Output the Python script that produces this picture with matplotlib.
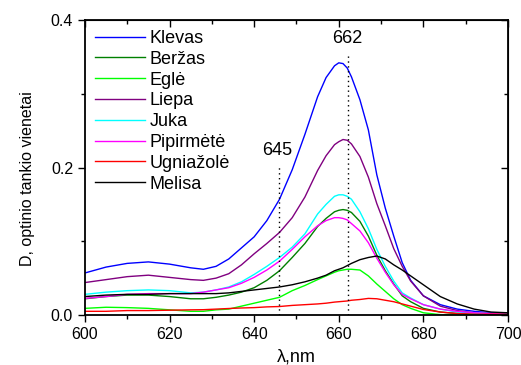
import matplotlib
matplotlib.use("Agg")
import matplotlib.pyplot as plt
from matplotlib.ticker import MultipleLocator, FormatStrFormatter

plt.rcParams['font.family'] = ['Liberation Sans', 'DejaVu Sans']

# bangos ilgis, nm
wl = [600, 605, 610, 615, 620, 625, 628, 631, 634, 637, 640, 643, 646, 649, 652, 655,
      657, 659, 660, 661, 662, 663, 665, 667, 669, 671, 673, 675, 677, 680, 684, 688,
      692, 696, 700]

klevas = [0.057, 0.065, 0.070, 0.072, 0.069, 0.064, 0.062, 0.066, 0.076, 0.091, 0.106,
          0.128, 0.157, 0.197, 0.245, 0.296, 0.322, 0.338, 0.342, 0.341, 0.335, 0.323,
          0.292, 0.251, 0.190, 0.145, 0.107, 0.071, 0.047, 0.026, 0.014, 0.008, 0.005,
          0.003, 0.002]
berzas = [0.022, 0.025, 0.027, 0.027, 0.025, 0.022, 0.022, 0.024, 0.027, 0.031, 0.037,
          0.047, 0.060, 0.078, 0.097, 0.120, 0.131, 0.140, 0.142, 0.143, 0.142, 0.139,
          0.127, 0.107, 0.081, 0.060, 0.042, 0.026, 0.018, 0.009, 0.004, 0.002, 0.001,
          0.001, 0.001]
egle = [0.009, 0.0105, 0.010, 0.009, 0.007, 0.005, 0.005, 0.007, 0.008, 0.012, 0.016,
        0.020, 0.024, 0.033, 0.040, 0.048, 0.053, 0.058, 0.060, 0.061, 0.062, 0.062,
        0.061, 0.053, 0.042, 0.032, 0.022, 0.014, 0.009, 0.003, 0.0005, 0.0, 0.0005,
        0.001, 0.001]
liepa = [0.044, 0.048, 0.052, 0.054, 0.051, 0.048, 0.047, 0.050, 0.056, 0.068, 0.083,
         0.097, 0.112, 0.132, 0.160, 0.196, 0.216, 0.231, 0.235, 0.238, 0.237, 0.232,
         0.215, 0.187, 0.151, 0.121, 0.090, 0.066, 0.046, 0.026, 0.012, 0.006, 0.003,
         0.002, 0.001]
juka = [0.028, 0.031, 0.033, 0.034, 0.033, 0.030, 0.031, 0.034, 0.038, 0.045, 0.055,
        0.066, 0.078, 0.092, 0.110, 0.137, 0.150, 0.161, 0.163, 0.163, 0.161, 0.157,
        0.140, 0.117, 0.089, 0.066, 0.046, 0.030, 0.023, 0.014, 0.008, 0.004, 0.003,
        0.002, 0.002]
pipirmete = [0.0225, 0.025, 0.028, 0.029, 0.029, 0.029, 0.031, 0.034, 0.037, 0.043,
             0.051, 0.061, 0.073, 0.089, 0.106, 0.121, 0.128, 0.132, 0.132, 0.131,
             0.129, 0.124, 0.114, 0.098, 0.077, 0.058, 0.041, 0.028, 0.022, 0.014,
             0.008, 0.005, 0.003, 0.002, 0.001]
ugniazole = [0.005, 0.005, 0.006, 0.006, 0.0065, 0.007, 0.0072, 0.008, 0.0088, 0.0095,
             0.010, 0.011, 0.0115, 0.013, 0.014, 0.015, 0.016, 0.0175, 0.018, 0.0185,
             0.019, 0.020, 0.021, 0.0225, 0.022, 0.020, 0.018, 0.015, 0.012, 0.0075,
             0.004, 0.002, 0.001, 0.001, 0.001]
melisa = [0.025, 0.027, 0.028, 0.028, 0.029, 0.029, 0.029, 0.029, 0.030, 0.032, 0.034,
          0.036, 0.038, 0.041, 0.045, 0.050, 0.054, 0.060, 0.062, 0.064, 0.067, 0.070,
          0.075, 0.078, 0.080, 0.076, 0.068, 0.061, 0.053, 0.041, 0.025, 0.015, 0.008,
          0.004, 0.003]

labels = ['Klevas', 'Beržas', 'Eglė', 'Liepa', 'Juka', 'Pipirmėtė', 'Ugniažolė', 'Melisa']
series = [klevas, berzas, egle, liepa, juka, pipirmete, ugniazole, melisa]
colors = ['#0000ff', '#008000', '#00ff00', '#800080', '#00ffff', '#ff00ff', '#ff0000', '#000000']

# žymimos bangos ilgiai
marks = [645.8, 662.3]
mark_labels = ['645', '662']
mark_tops = [0.201, 0.352]

fig = plt.figure(figsize=(5.21, 3.65), dpi=100)
ax = fig.add_axes([0.163, 0.137, 0.812, 0.808])

for y, lab, c in zip(series, labels, colors):
    ax.plot(wl, y, color=c, lw=1.0, label=lab)

for xm, lab, top in zip(marks, mark_labels, mark_tops):
    ax.plot([xm, xm], [0, top], color='black', ls=(0, (1, 2.5)), lw=1.0)
    ax.text(xm - 0.3, top + 0.011, lab, ha='center', va='bottom', fontsize=13)

ax.set_xlim(600, 700)
ax.set_ylim(0, 0.4)
ax.xaxis.set_major_locator(MultipleLocator(20))
ax.xaxis.set_minor_locator(MultipleLocator(10))
ax.yaxis.set_major_locator(MultipleLocator(0.2))
ax.yaxis.set_minor_locator(MultipleLocator(0.1))
ax.yaxis.set_major_formatter(FormatStrFormatter('%.1f'))

ax.tick_params(which='both', direction='out', labelsize=11.5, width=1.0)
ax.tick_params(which='major', length=5)
ax.tick_params(which='minor', length=3)
# veidrodinės žymės viršuje ir dešinėje – į vidų
ax2 = ax.secondary_xaxis('top')
ax2.xaxis.set_major_locator(MultipleLocator(20))
ax2.xaxis.set_minor_locator(MultipleLocator(10))
ax2.tick_params(which='both', direction='in', labeltop=False, width=1.0)
ax2.tick_params(which='major', length=5)
ax2.tick_params(which='minor', length=3)
ay2 = ax.secondary_yaxis('right')
ay2.yaxis.set_major_locator(MultipleLocator(0.2))
ay2.yaxis.set_minor_locator(MultipleLocator(0.1))
ay2.tick_params(which='both', direction='in', labelright=False, width=1.0)
ay2.tick_params(which='major', length=5)
ay2.tick_params(which='minor', length=3)

for s in ax.spines.values():
    s.set_linewidth(1.3)

ax.set_xlabel('λ,nm', fontsize=13, labelpad=5)
ax.set_ylabel('D, optinio tankio vienetai', fontsize=11.5)
ax.yaxis.set_label_coords(-0.118, 0.464)

ax.legend(loc='upper left', frameon=False, fontsize=13, handlelength=2.75,
          handletextpad=0.3, labelspacing=0.21, borderaxespad=0.35,
          borderpad=0.2)

fig.savefig('out.png', dpi=100)
